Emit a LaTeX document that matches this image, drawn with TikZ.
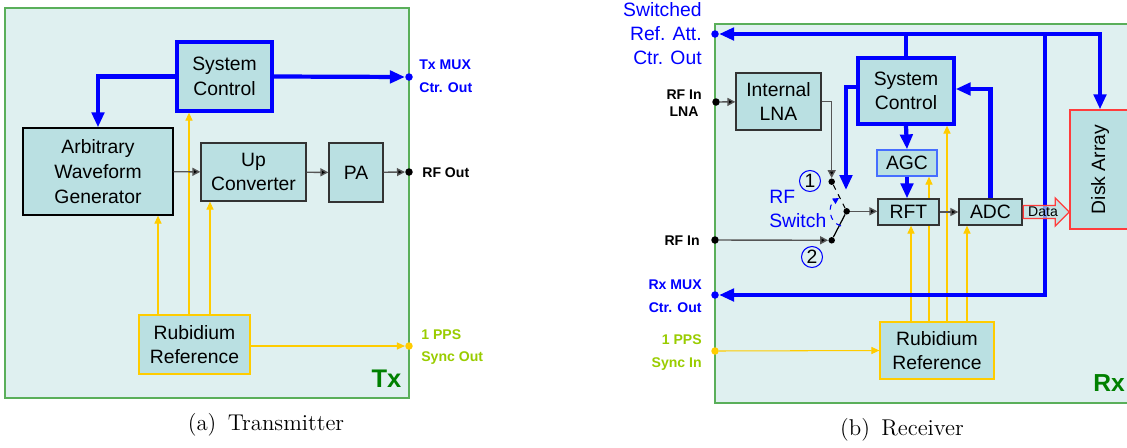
\documentclass[tikz,border=0pt]{standalone}
\usepackage{fontspec}
\newfontfamily\arial{Liberation Sans}
\usetikzlibrary{arrows.meta, positioning, shapes.arrows}

\definecolor{bgcyan}{RGB}{223,240,240}
\definecolor{boxfill}{RGB}{186,224,226}
\definecolor{framegreen}{RGB}{90,175,90}
\definecolor{ctlblue}{RGB}{0,0,255}
\definecolor{agcblue}{RGB}{70,110,255}
\definecolor{refyellow}{RGB}{255,204,0}
\definecolor{ppsgreen}{RGB}{153,204,0}
\definecolor{txgreen}{RGB}{0,128,0}
\definecolor{sigray}{RGB}{85,85,85}
\definecolor{datared}{RGB}{255,60,60}

\pgfdeclarelayer{frame}
\pgfdeclarelayer{under}
\pgfsetlayers{frame,under,main}

\begin{document}
\begin{tikzpicture}[x=0.02cm, y=-0.02cm, font=\arial\fontsize{11}{14}\selectfont,
  box/.style={draw=black!80, line width=0.75pt, fill=boxfill, align=center, inner sep=1pt},
  ctlbox/.style={box, draw=ctlblue, line width=1.9pt},
  refbox/.style={box, draw=refyellow},
  frame/.style={draw=framegreen, line width=0.7pt, fill=bgcyan},
  ctl/.style={draw=ctlblue, line width=2.4pt, -{Triangle[length=8.5pt, width=7pt]}},
  sig/.style={draw=sigray, line width=0.8pt, -{Triangle[length=4.5pt, width=4.5pt, fill=black]}},
  ref/.style={draw=refyellow, line width=0.6pt, -{Triangle[length=4.5pt, width=4pt]}},
  port/.style={circle, fill=#1, inner sep=0pt, minimum size=0.15cm},
  sw/.style={circle, fill=black, inner sep=0pt, minimum size=0.13cm},
  numc/.style={circle, draw=ctlblue, line width=0.6pt, inner sep=0pt, minimum size=0.42cm},
  plab/.style={inner sep=0pt, font=\arial\bfseries\fontsize{8}{13}\selectfont},
  captext/.style={font=\rmfamily\fontsize{13}{15}\selectfont}]
  \clip (0,0) rectangle (1127,447);

  % ---------------- transmitter ----------------
  \begin{pgfonlayer}{frame}
    \draw[frame] (5,8) rectangle (409,398);
  \end{pgfonlayer}
  \node[ctlbox, minimum width=1.9cm, minimum height=1.38cm] (txsc) at (224.5,76.5) {System\\Control};
  \node[box, draw=black, minimum width=3.0cm, minimum height=1.74cm] (awg) at (98,171.5) {Arbitrary\\Waveform\\Generator};
  \node[box, minimum width=2.1cm, minimum height=1.16cm] (upc) at (253.5,172) {Up\\Converter};
  \node[box, minimum width=1.08cm, minimum height=1.18cm] (pa) at (356,172.5) {PA};
  \node[refbox, minimum width=2.22cm, minimum height=1.18cm] (txrb) at (194.5,344.5) {Rubidium\\Reference};

  \node[port=ctlblue] (txmux) at (409,77) {};
  \node[port=black] (rfout) at (409,172) {};
  \node[port=refyellow] (ppsout) at (409,346) {};
  \node[plab, text=ctlblue, anchor=west, align=left] at (419,76) {Tx MUX\\Ctr. Out};
  \node[plab, anchor=west] at (422,173) {RF Out};
  \node[plab, text=ppsgreen, anchor=west, align=left] at (421,347) {1 PPS\\Sync Out};
  \node[text=txgreen, font=\arial\bfseries\fontsize{14.5}{16}\selectfont] at (386.5,378.5) {Tx};

  \draw[ctl] (txsc.east) -- (txmux);
  \draw[ctl] (txsc.west) -| (awg.north);
  \draw[sig] (awg) -- (upc);
  \draw[sig] (upc) -- (pa);
  \draw[sig] (pa) -- (rfout);
  \begin{pgfonlayer}{under}
    \draw[ref] ([xshift=-0.73cm]txrb.north) coordinate (ta) -- (ta |- awg.south);
    \draw[ref] ([xshift=-0.11cm]txrb.north) coordinate (tb) -- (tb |- txsc.south);
    \draw[ref] ([xshift=0.31cm]txrb.north) coordinate (tc) -- (tc |- upc.south);
    \draw[ref] (txrb.east |- ppsout) -- (ppsout);
  \end{pgfonlayer}

  \node[captext] at (266,425) {(a)\enspace Transmitter};

  % ---------------- receiver ----------------
  \begin{pgfonlayer}{frame}
    \draw[frame] (715,24) rectangle (1140,403);
  \end{pgfonlayer}
  \node[ctlbox, minimum width=1.92cm, minimum height=1.32cm] (rxsc) at (906,91) {System\\Control};
  \node[box, minimum width=1.7cm, minimum height=1.14cm, font=\arial\fontsize{11}{13.3}\selectfont] (lna) at (778.5,101.5) {Internal\\LNA};
  \node[box, draw=agcblue, minimum width=1.2cm, minimum height=0.52cm] (agc) at (907,163) {AGC};
  \node[box, minimum width=1.22cm, minimum height=0.52cm] (rft) at (908.5,212) {RFT};
  \node[box, minimum width=1.26cm, minimum height=0.52cm] (adc) at (990.5,212) {ADC};
  \node[box, draw=datared, rotate=90, minimum width=2.38cm, minimum height=1.2cm] (disk) at (1100,169.5) {Disk Array};
  \node[refbox, minimum width=2.28cm, minimum height=1.14cm] (rxrb) at (937,350.5) {Rubidium\\Reference};

  \node[port=ctlblue] (swatt) at (715,34) {};
  \node[port=black] (rfinlna) at (716,102) {};
  \node[port=black] (rfin) at (715,240) {};
  \node[port=ctlblue] (rxmux) at (715,295) {};
  \node[port=refyellow] (ppsin) at (715,351) {};
  \node[inner sep=0pt, text=ctlblue, anchor=east, align=right, font=\arial\fontsize{11}{13.7}\selectfont] at (702,34) {Switched\\Ref. Att.\\Ctr. Out};
  \node[plab, anchor=east, align=center, font=\arial\bfseries\fontsize{8}{9.8}\selectfont] at (702,103.3) {RF In\\LNA};
  \node[plab, anchor=east] at (700,241) {RF In};
  \node[plab, text=ctlblue, anchor=east, align=right, font=\arial\bfseries\fontsize{8}{13.3}\selectfont] at (702,296.2) {Rx MUX\\Ctr. Out};
  \node[plab, text=ppsgreen, anchor=east, align=right, font=\arial\bfseries\fontsize{8}{13.3}\selectfont] at (702,352.7) {1 PPS\\Sync In};
  \node[text=txgreen, font=\arial\bfseries\fontsize{14}{16}\selectfont] at (1109,383.3) {Rx};

  % rf switch
  \node[sw] (p1) at (831.7,181.7) {};
  \node[sw] (p2) at (831.7,240.3) {};
  \node[sw] (c) at (846.7,211.3) {};
  \node[numc] (one) at (810,181) {1};
  \node[numc] (two) at (812,257) {2};
  \node[inner sep=0pt, text=ctlblue, anchor=west, align=left, font=\arial\fontsize{11}{13.7}\selectfont] (swlab) at (769,209) {RF\\Switch};
  \coordinate (arcA) at (841,226);
  \coordinate (arcB) at (839,198);
  \coordinate (swctl) at (846,190);

  \draw[sig] (rfinlna) -- (lna);
  \draw[sig] (lna.east) -| (p1);
  \draw[sig] (rfin) -- (p2);
  \draw[draw=black, line width=0.6pt, dashed] (p1) -- (c);
  \draw[draw=black, line width=0.7pt] (c) -- (p2);
  \draw[draw=ctlblue, line width=0.6pt, dashed, -{Triangle[length=3.5pt, width=3.5pt]}]
    (arcA) .. controls +(-13,-4) and +(-11,7) .. (arcB);
  \draw[sig] (c) -- (c -| rft.west);
  \draw[sig] (rft) -- (adc);

  % control buses
  \coordinate (bus) at (rxsc.north |- swatt);
  \coordinate (tap) at (1045,34);
  \draw[ctl, -] (rxsc.north) -- (bus);
  \draw[ctl] (bus) -- (swatt);
  \draw[ctl] (bus) -| (disk.east);
  \draw[ctl] (tap) |- (rxmux);
  \draw[ctl] ([yshift=0.08cm]rxsc.west) -| (swctl);
  \draw[ctl] (adc.north) |- ([yshift=0.04cm]rxsc.east);
  \draw[ctl] (rxsc.south) -- (agc.north);
  \draw[ctl] (agc.south) -- (agc.south |- rft.north);

  \node[single arrow, draw=datared, line width=0.7pt, fill=boxfill, fill opacity=0.7, text opacity=1,
        font=\arial\fontsize{8}{9}\selectfont, inner xsep=1pt, inner ysep=0.6pt,
        single arrow head extend=4.3pt, minimum height=0.92cm, anchor=tail] (data) at (adc.east) {Data};

  \begin{pgfonlayer}{under}
    \draw[ref] (ppsin) -- (rxrb.west);
    \draw[ref] ([xshift=-0.52cm]rxrb.north) coordinate (ra) -- (ra |- rft.south);
    \draw[ref] ([xshift=-0.16cm]rxrb.north) coordinate (rb) -- (rb |- agc.south);
    \draw[ref] ([xshift=0.2cm]rxrb.north) coordinate (rc) -- (rc |- rxsc.south);
    \draw[ref] ([xshift=0.6cm]rxrb.north) coordinate (rd) -- (rd |- adc.south);
  \end{pgfonlayer}

  \node[captext] at (902,430) {(b)\enspace Receiver};
\end{tikzpicture}
\end{document}
